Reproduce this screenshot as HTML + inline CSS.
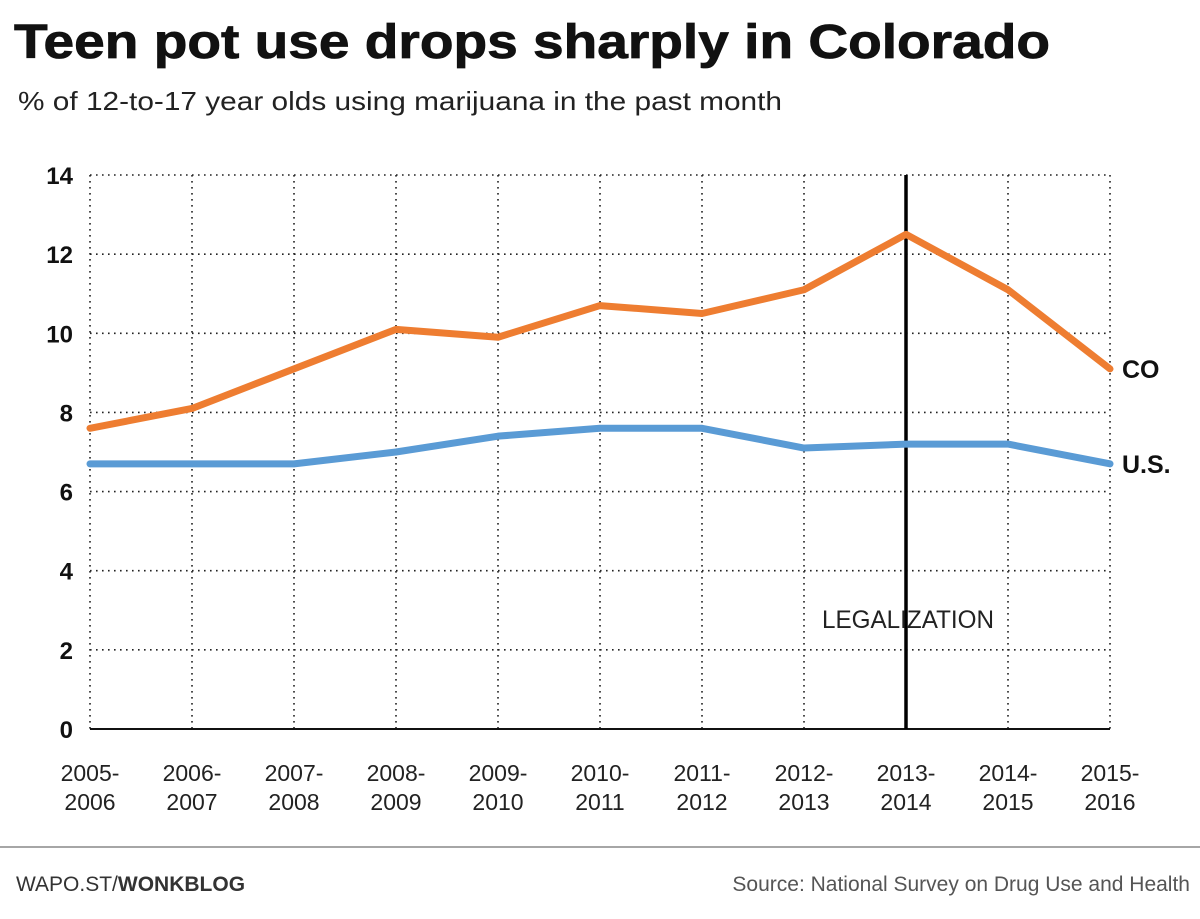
<!DOCTYPE html>
<html><head><meta charset="utf-8">
<style>
html,body{margin:0;padding:0;background:#fff;width:1200px;height:919px;overflow:hidden;font-family:"Liberation Sans",sans-serif;}
</style></head>
<body>
<svg width="1200" height="919" xmlns="http://www.w3.org/2000/svg">
<text x="14" y="58" font-size="48" font-weight="bold" fill="#111" stroke="#111" stroke-width="0.8" textLength="1036" lengthAdjust="spacingAndGlyphs">Teen pot use drops sharply in Colorado</text>
<text x="18" y="110" font-size="26" fill="#222" textLength="764" lengthAdjust="spacingAndGlyphs">% of 12-to-17 year olds using marijuana in the past month</text>
<g id="grid"></g>
<g id="ylabels"></g>
<g id="xlabels"></g>
<g id="lines"></g>
<line x1="0" y1="847" x2="1200" y2="847" stroke="#888" stroke-width="1.5"/>
<text x="16" y="891" font-size="21" fill="#333">WAPO.ST/<tspan font-weight="bold">WONKBLOG</tspan></text>
<text x="1190" y="891" font-size="21" fill="#555" text-anchor="end">Source: National Survey on Drug Use and Health</text>
</svg>
<script>
const categories=["2005-2006","2006-2007","2007-2008","2008-2009","2009-2010","2010-2011","2011-2012","2012-2013","2013-2014","2014-2015","2015-2016"];
const coValues=[7.6,8.1,9.1,10.1,9.9,10.7,10.5,11.1,12.5,11.1,9.1];
const usValues=[6.7,6.7,6.7,7.0,7.4,7.6,7.6,7.1,7.2,7.2,6.7];
const yTicks=[0,2,4,6,8,10,12,14];
const legalizationIndex=8;
const NS="http://www.w3.org/2000/svg";
const x0=90,x1=1110,yTop=175,yBot=729,yMax=14;
const xs=i=>x0+i*(x1-x0)/(categories.length-1);
const ys=v=>yBot-v*(yBot-yTop)/yMax;
function mk(tag,attrs,parent){const e=document.createElementNS(NS,tag);for(const k in attrs)e.setAttribute(k,attrs[k]);document.getElementById(parent).appendChild(e);return e;}
yTicks.forEach(t=>{
 if(t>0){const l=mk('line',{x1:x0,x2:x1,y1:ys(t),y2:ys(t),stroke:'#222','stroke-width':1.6,'stroke-dasharray':'1.6 4.4'},'grid');
 
 }
 const tx=mk('text',{x:73,y:ys(t)+9,'font-size':24,'font-weight':'bold','text-anchor':'end',fill:'#111'},'ylabels');
 tx.textContent=t;
 
 
});
categories.forEach((c,i)=>{
 const l=mk('line',{x1:xs(i),x2:xs(i),y1:yTop,y2:yBot,stroke:'#222','stroke-width':1.6,'stroke-dasharray':'1.6 4.4'},'grid');
 
 
 const p=c.split('-');
 const t=mk('text',{x:xs(i),y:781,'font-size':23,'text-anchor':'middle',fill:'#222'},'xlabels');
 
 
 const a=document.createElementNS(NS,'tspan');a.setAttribute('x',xs(i));a.textContent=p[0]+'-';t.appendChild(a);
 const b=document.createElementNS(NS,'tspan');b.setAttribute('x',xs(i));b.setAttribute('dy','29');b.textContent=p[1];t.appendChild(b);
});
const ax=mk('line',{x1:x0,x2:x1,y1:yBot,y2:yBot,stroke:'#111','stroke-width':2},'grid');


const lg=mk('line',{x1:xs(legalizationIndex),x2:xs(legalizationIndex),y1:yTop,y2:yBot,stroke:'#000','stroke-width':3.5},'lines');


const lt=mk('text',{x:xs(legalizationIndex)+2,y:628,'font-size':25,'text-anchor':'middle',fill:'#222',textLength:172,lengthAdjust:'spacingAndGlyphs'},'lines');
lt.textContent='LEGALIZATION';


function series(vals,color,name,label){
 const pl=mk('polyline',{points:vals.map((v,i)=>xs(i)+','+ys(v)).join(' '),fill:'none',stroke:color,'stroke-width':7,'stroke-linejoin':'round','stroke-linecap':'round'},'lines');
 
 
 const t=mk('text',{x:x1+12,y:ys(vals[vals.length-1])+9,'font-size':25,'font-weight':'bold',fill:'#111'},'lines');
 t.textContent=label;
 
 
}
series(usValues,'#5a9bd5','us-line','U.S.');
series(coValues,'#ee7d31','co-line','CO');
</script>
</body></html>
